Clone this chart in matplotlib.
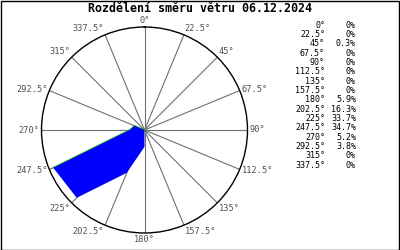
import numpy as np
import matplotlib
matplotlib.use("Agg")
import matplotlib.pyplot as plt
from matplotlib.patches import Rectangle

title = "Rozdělení směru větru 06.12.2024"
directions = [0, 22.5, 45, 67.5, 90, 112.5, 135, 157.5, 180, 202.5, 225, 247.5, 270, 292.5, 315, 337.5]
dir_labels = ["0°", "22.5°", "45°", "67.5°", "90°", "112.5°", "135°", "157.5°", "180°",
              "202.5°", "225°", "247.5°", "270°", "292.5°", "315°", "337.5°"]
values = [0, 0, 0.3, 0, 0, 0, 0, 0, 5.9, 16.3, 33.7, 34.7, 5.2, 3.8, 0, 0]
value_labels = ["0%", "0%", "0.3%", "0%", "0%", "0%", "0%", "0%", "5.9%", "16.3%",
                "33.7%", "34.7%", "5.2%", "3.8%", "0%", "0%"]

W, H = 400, 250
fig = plt.figure(figsize=(4, 2.5), dpi=100)
fig.patches.append(Rectangle((0.5 / W, 0.5 / H), 1 - 1.5 / W, 1 - 1.5 / H, transform=fig.transFigure,
                             fill=False, edgecolor="black", linewidth=1.0))

cx, cy, r = 144.5, 130, 103
ax = fig.add_axes([(cx - r) / W, (H - cy - r) / H, 2 * r / W, 2 * r / H], projection="polar")
ax.set_theta_zero_location("N")
ax.set_theta_direction(-1)
rmax = 36.2
ax.set_ylim(0, rmax)
ax.grid(False)
ax.set_xticks([])
ax.set_yticks([])
ax.spines["polar"].set_color("black")
ax.spines["polar"].set_linewidth(1.0)

th = np.deg2rad(directions)
for t in th:
    ax.plot([t, t], [0, rmax], color="#707070", lw=0.8, zorder=1)

thc = np.append(th, th[0])
vc = np.append(values, values[0])
ax.plot(th[11:15], values[11:15], color="#00c000", lw=1.0, zorder=2)
ax.fill(thc, vc, facecolor="#0000ff", edgecolor="none", zorder=3)

mono = "DejaVu Sans Mono"
for d, t, lab in zip(directions, th, dir_labels):
    s, c = np.sin(t), np.cos(t)
    ha = "center" if abs(s) < 0.1 else ("left" if s > 0 else "right")
    if abs(c) < 0.45:
        va = "center"
    else:
        va = "bottom" if c > 0 else "top"
    ax.text(t, rmax * 1.02, lab, ha=ha, va=va, fontsize=6.2, family=mono, color="#505050",
            clip_on=False)

fig.text(0.5, 1 - 8 / H, title, ha="center", va="center", fontsize=8.4, family=mono,
         fontweight="bold", color="black")

y0, dy = 25, 140 / 15
for i, (lab, vl) in enumerate(zip(dir_labels, value_labels)):
    y = 1 - (y0 + i * dy) / H
    fig.text(325 / W, y, lab, ha="right", va="center", fontsize=6.0, family=mono, color="black")
    fig.text(356 / W, y, vl, ha="right", va="center", fontsize=6.0, family=mono, color="black")

fig.savefig("out.png", dpi=100)
